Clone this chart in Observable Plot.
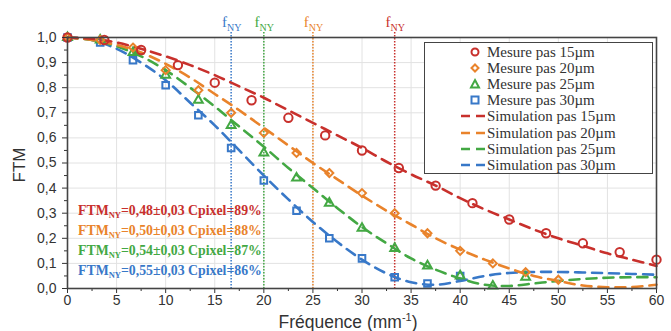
<!DOCTYPE html>
<html><head><meta charset="utf-8">
<script src="https://cdn.jsdelivr.net/npm/d3@7"></script>
<script src="https://cdn.jsdelivr.net/npm/@observablehq/plot@0.6"></script>
<style>
body{margin:0;background:#fff;}
#wrap{position:relative;width:671px;height:331px;overflow:hidden;background:#fff;}
.ov{position:absolute;white-space:nowrap;}
.ann{font-family:"Liberation Serif","Times New Roman",serif;font-weight:bold;font-size:13.8px;line-height:14px;}
.ann sub{font-size:8.5px;vertical-align:-3px;line-height:0;}
.fny{font-family:"Liberation Serif","Times New Roman",serif;font-size:15px;line-height:16px;}
.fny sub{font-size:10px;vertical-align:-4px;line-height:0;}
#legend{position:absolute;left:424px;top:42px;width:229px;height:132px;border:1.5px solid #444;background:#fff;box-sizing:border-box;}
.lrow{position:absolute;left:0;height:16px;font-family:"Liberation Serif","Times New Roman",serif;font-size:15px;color:#333;line-height:16px;}
.lrow svg{position:absolute;left:34px;top:0;}
.lrow span{position:absolute;left:62px;top:0;white-space:nowrap;}
</style></head><body><div id="wrap"></div>
<script>
// ---- data ----
const seriesLabels = ["15µm", "20µm", "25µm", "30µm"];
const seriesColors = ["#c8302c", "#e9832b", "#43a843", "#3878c8"];
const nyquistFreq = [33.33, 25, 20, 16.67];
const ftmNyText = ["0,48±0,03", "0,50±0,03", "0,54±0,03", "0,55±0,03"];
const cpixelText = ["89%", "88%", "87%", "86%"];

const mesFreq15 = [0, 3.75, 7.5, 11.25, 15, 18.75, 22.5, 26.25, 30, 33.75, 37.5, 41.25, 45, 48.75, 52.5, 56.25, 60];
const mesFTM15  = [1.0, 0.99, 0.95, 0.89, 0.82, 0.75, 0.68, 0.61, 0.55, 0.48, 0.41, 0.34, 0.275, 0.22, 0.18, 0.145, 0.115];
const mesFreq20 = [0, 3.33, 6.67, 10, 13.33, 16.67, 20, 23.33, 26.67, 30, 33.33, 36.67, 40, 43.33, 46.67, 50];
const mesFTM20  = [1.0, 0.99, 0.96, 0.87, 0.79, 0.70, 0.62, 0.54, 0.46, 0.38, 0.30, 0.22, 0.15, 0.10, 0.065, 0.035];
const mesFreq25 = [0, 3.33, 6.67, 10, 13.33, 16.67, 20, 23.33, 26.67, 30, 33.33, 36.67, 40, 43.33, 46.67];
const mesFTM25  = [1.0, 0.99, 0.94, 0.85, 0.75, 0.65, 0.54, 0.44, 0.34, 0.24, 0.16, 0.09, 0.05, 0.01, 0.045];
const mesFreq30 = [0, 3.33, 6.67, 10, 13.33, 16.67, 20, 23.33, 26.67, 30, 33.33, 36.67, 40];
const mesFTM30  = [1.0, 0.98, 0.91, 0.81, 0.69, 0.56, 0.43, 0.31, 0.20, 0.12, 0.045, 0.02, 0.05];

const simFreq  = [0, 2.5, 5, 7.5, 10, 12.5, 15, 17.5, 20, 22.5, 25, 27.5, 30, 32.5, 35, 37.5, 40, 42.5, 45, 47.5, 50, 52.5, 55, 57.5, 60];
const simFTM15 = [1.0, 0.995, 0.98, 0.955, 0.925, 0.89, 0.85, 0.805, 0.76, 0.71, 0.66, 0.61, 0.56, 0.505, 0.455, 0.41, 0.36, 0.315, 0.275, 0.235, 0.2, 0.17, 0.14, 0.115, 0.09];
const simFTM20 = [1.0, 0.99, 0.97, 0.94, 0.895, 0.84, 0.775, 0.71, 0.64, 0.57, 0.5, 0.435, 0.37, 0.31, 0.255, 0.2, 0.155, 0.115, 0.08, 0.05, 0.03, 0.012, 0.005, 0.006, 0.015];
const simFTM25 = [1.0, 0.99, 0.965, 0.925, 0.87, 0.8, 0.725, 0.645, 0.565, 0.48, 0.4, 0.32, 0.245, 0.18, 0.12, 0.075, 0.04, 0.015, 0.01, 0.02, 0.03, 0.038, 0.043, 0.045, 0.045];
const simFTM30 = [1.0, 0.99, 0.955, 0.9, 0.83, 0.74, 0.65, 0.55, 0.45, 0.355, 0.265, 0.185, 0.115, 0.06, 0.025, 0.015, 0.03, 0.05, 0.062, 0.066, 0.066, 0.064, 0.061, 0.058, 0.055];

const xTicks = [0, 5, 10, 15, 20, 25, 30, 35, 40, 45, 50, 55, 60];
const xMinorTicks = [2.5, 7.5, 12.5, 17.5, 22.5, 27.5, 32.5, 37.5, 42.5, 47.5, 52.5, 57.5];
const yTicks = [0, 0.1, 0.2, 0.3, 0.4, 0.5, 0.6, 0.7, 0.8, 0.9, 1.0];
const yMinorTicks = [0.05, 0.15, 0.25, 0.35, 0.45, 0.55, 0.65, 0.75, 0.85, 0.95];

// ---- build tables ----
const mesFreqs = [mesFreq15, mesFreq20, mesFreq25, mesFreq30];
const mesFTMs = [mesFTM15, mesFTM20, mesFTM25, mesFTM30];
const simFTMs = [simFTM15, simFTM20, simFTM25, simFTM30];
const mes = mesFreqs.map((xs, i) => xs.map((x, j) => ({x, y: mesFTMs[i][j]})));
const sim = simFTMs.map(ys => simFreq.map((x, j) => ({x, y: ys[j]})));
const symbols = ["circle", "diamond2", "triangle2", "square2"];
const radii = [4.2, 3.6, 4.2, 4.2];

const fmt = d => d.toFixed(1).replace(".", ",");

const marks = [
  Plot.gridX(xTicks, {stroke: "#e2e2e2", strokeOpacity: 1}),
  Plot.gridY(yTicks, {stroke: "#e2e2e2", strokeOpacity: 1}),
];
nyquistFreq.forEach((f, i) => {
  marks.push(Plot.ruleX([f], {stroke: seriesColors[i], strokeWidth: 1.5, strokeDasharray: "1.5,1.5", insetTop: -5}));
});
[3, 2, 1, 0].forEach(i => {
  marks.push(Plot.line(sim[i], {x: "x", y: "y", stroke: seriesColors[i], strokeWidth: 2.6, strokeDasharray: "10,7", curve: "catmull-rom"}));
});
[3, 2, 1, 0].forEach(i => {
  marks.push(Plot.dot(mes[i], {x: "x", y: "y", symbol: symbols[i], r: radii[i], stroke: seriesColors[i], strokeWidth: 2, fill: "none"}));
});
marks.push(
  Plot.axisX({ticks: xTicks, tickSize: 5, tickPadding: 2, fontSize: 14, label: null, stroke: "#333"}),
  Plot.axisX({ticks: xMinorTicks, tickSize: 3, tickFormat: () => "", label: null, stroke: "#333"}),
  Plot.axisY({ticks: yTicks, tickSize: 5, tickPadding: 6, fontSize: 14, tickFormat: fmt, label: null, stroke: "#333"}),
  Plot.axisY({ticks: yMinorTicks, tickSize: 3, tickFormat: () => "", label: null, stroke: "#333"}),
  Plot.frame({stroke: "#444", strokeWidth: 1.6})
);

const chart = Plot.plot({
  width: 671, height: 331,
  marginLeft: 67, marginRight: 15, marginTop: 37, marginBottom: 43,
  x: {domain: [0, 60]},
  y: {domain: [0, 1]},
  style: {fontFamily: "'Liberation Sans', Arial, sans-serif", color: "#333", background: "#fff"},
  marks
});

const wrap = document.getElementById("wrap");
wrap.appendChild(chart);
const sx = chart.scale("x");

function addDiv(cls, html, css) {
  const d = document.createElement("div");
  d.className = "ov " + cls;
  d.innerHTML = html;
  Object.assign(d.style, css);
  wrap.appendChild(d);
  return d;
}

// f_NY labels above plot
nyquistFreq.forEach((f, i) => {
  const d = addDiv("fny", "f<sub>NY</sub>", {top: "14px", color: seriesColors[i]});
  const w = d.getBoundingClientRect().width;
  d.style.left = (sx.apply(f) - w / 2 + 1) + "px";
});

// FTM annotations
const annTops = [204, 224, 244, 264];
seriesLabels.forEach((s, i) => {
  addDiv("ann", `FTM<sub>NY</sub>=${ftmNyText[i]} Cpixel=${cpixelText[i]}`, {left: "78px", top: annTops[i] + "px", color: seriesColors[i]});
});

// axis labels
const xl = addDiv("", "Fréquence (mm<sup style='font-size:11px'>-1</sup>)", {top: "307px", fontFamily: "'Liberation Sans', Arial, sans-serif", fontSize: "17.5px", color: "#333", lineHeight: "20px"});
xl.style.left = (348 - xl.getBoundingClientRect().width / 2) + "px";
const yl = addDiv("", "FTM", {left: "3px", top: "156px", fontFamily: "'Liberation Sans', Arial, sans-serif", fontSize: "17px", color: "#333", transform: "rotate(-90deg)", transformOrigin: "center", lineHeight: "18px"});

// legend
const legend = document.createElement("div");
legend.id = "legend";
wrap.appendChild(legend);
const rowTops = [0.5, 16.7, 32.9, 49.1, 65.3, 81.5, 97.7, 113.9];
function symSvg(i) {
  const c = seriesColors[i];
  let shape;
  if (i === 0) shape = `<circle cx="16" cy="8" r="3.5" fill="none" stroke="${c}" stroke-width="2"/>`;
  else if (i === 1) shape = `<path d="M16 4.5 L19.5 8 L16 11.5 L12.5 8 Z" fill="none" stroke="${c}" stroke-width="2"/>`;
  else if (i === 2) shape = `<path d="M16 4 L20 11.5 L12 11.5 Z" fill="none" stroke="${c}" stroke-width="2"/>`;
  else shape = `<rect x="12.5" y="4.5" width="7" height="7" fill="none" stroke="${c}" stroke-width="2"/>`;
  return `<svg width="30" height="16">${shape}</svg>`;
}
function lineSvg(i) {
  return `<svg width="30" height="16"><line x1="2" y1="8" x2="28" y2="8" stroke="${seriesColors[i]}" stroke-width="2.6" stroke-dasharray="9,6"/></svg>`;
}
seriesLabels.forEach((s, i) => {
  const r = document.createElement("div");
  r.className = "lrow";
  r.style.top = rowTops[i] + "px";
  r.innerHTML = symSvg(i) + `<span>Mesure pas ${s}</span>`;
  legend.appendChild(r);
});
seriesLabels.forEach((s, i) => {
  const r = document.createElement("div");
  r.className = "lrow";
  r.style.top = rowTops[i + 4] + "px";
  r.innerHTML = lineSvg(i) + `<span>Simulation pas ${s}</span>`;
  legend.appendChild(r);
});
</script></body></html>
